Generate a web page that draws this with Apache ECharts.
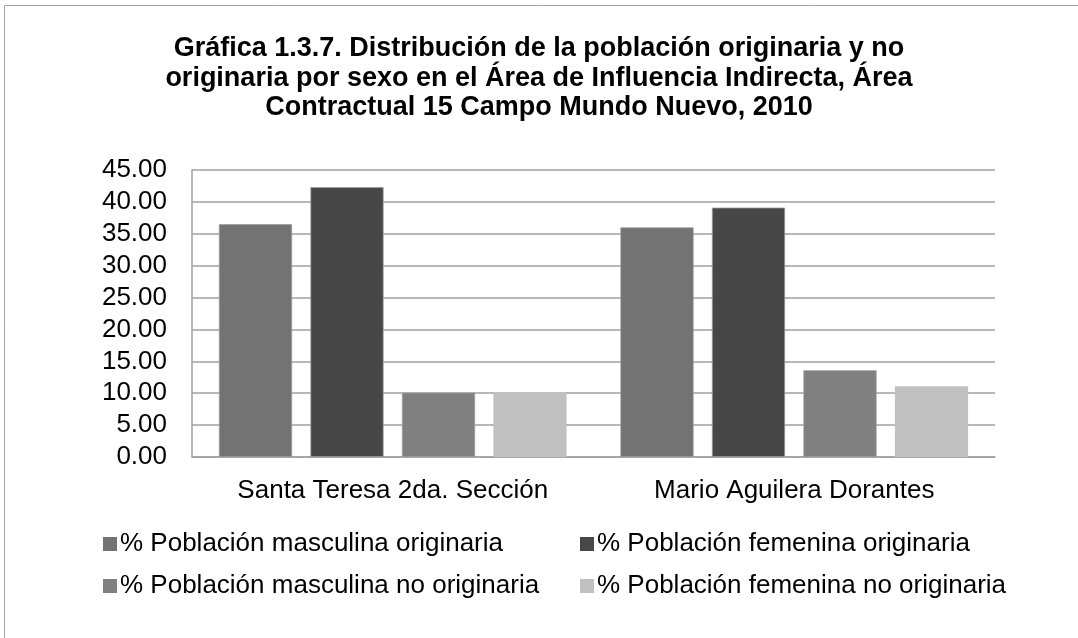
<!DOCTYPE html>
<html>
<head>
<meta charset="utf-8">
<script src="https://cdn.jsdelivr.net/npm/echarts@6/dist/echarts.min.js"></script>
<style>
  html, body { margin: 0; padding: 0; background: #fff; }
  #chart { width: 1078px; height: 638px; }
</style>
</head>
<body>
<div id="chart"></div>
<script>
// Localidades y porcentajes por grupo de población (2010)
const categories = ['Santa Teresa 2da. Sección', 'Mario Aguilera Dorantes'];
const seriesNames = [
  '% Población masculina originaria',
  '% Población femenina originaria',
  '% Población masculina no originaria',
  '% Población femenina no originaria'
];
const masculinaOriginaria = [36.5, 36.0];
const femeninaOriginaria = [42.3, 39.1];
const masculinaNoOriginaria = [10.1, 13.6];
const femeninaNoOriginaria = [10.2, 11.1];
const yTicks = { min: 0, max: 45, interval: 5 };

const colors = ['#737373', '#474747', '#808080', '#c0c0c0'];
const values = [masculinaOriginaria, femeninaOriginaria, masculinaNoOriginaria, femeninaNoOriginaria];
const fontFamily = '"Liberation Sans", Arial, sans-serif';

const legendBase = {
  orient: 'vertical',
  top: 526,
  itemWidth: 14,
  itemHeight: 14,
  itemGap: 16,
  icon: 'rect',
  itemStyle: { borderWidth: 0 },
  textStyle: { fontFamily: fontFamily, fontSize: 26, color: '#000', lineHeight: 26, padding: [0, 0, 0, -2] }
};

const chart = echarts.init(document.getElementById('chart'));
chart.setOption({
  animation: false,
  textStyle: { fontFamily: fontFamily },
  title: {
    text: 'Gráfica 1.3.7. Distribución de la población originaria y no\noriginaria por sexo en el Área de Influencia Indirecta, Área\nContractual 15 Campo Mundo Nuevo, 2010',
    left: 'center',
    top: 34,
    padding: 0,
    textStyle: {
      fontFamily: fontFamily,
      fontSize: 27,
      fontWeight: 'bold',
      color: '#000',
      lineHeight: 29.5,
      align: 'center'
    }
  },
  graphic: [{
    type: 'rect',
    silent: true,
    shape: { x: 4.5, y: 5.5, width: 1200, height: 800 },
    style: { fill: 'none', stroke: '#a6a6a6', lineWidth: 1 }
  }],
  legend: [
    Object.assign({ data: [seriesNames[0], seriesNames[2]], left: 98 }, legendBase),
    Object.assign({ data: [seriesNames[1], seriesNames[3]], left: 575 }, legendBase)
  ],
  grid: { left: 192, right: 83, top: 170, bottom: 181, containLabel: false },
  xAxis: {
    type: 'category',
    data: categories,
    axisTick: { show: false },
    axisLine: { show: true, lineStyle: { color: '#a0a0a0', width: 1.5 } },
    axisLabel: { interval: 0, hideOverlap: false, fontFamily: fontFamily, fontSize: 26, color: '#000', margin: 21 }
  },
  yAxis: {
    type: 'value',
    min: yTicks.min,
    max: yTicks.max,
    interval: yTicks.interval,
    axisLine: { show: true, lineStyle: { color: '#a0a0a0', width: 1.5 } },
    axisTick: { show: false },
    splitLine: { lineStyle: { color: '#a0a0a0', width: 1.5 } },
    axisLabel: {
      fontFamily: fontFamily,
      fontSize: 26,
      color: '#000',
      margin: 25,
      formatter: v => v.toFixed(2)
    }
  },
  series: seriesNames.map((name, i) => ({
    name: name,
    type: 'bar',
    data: values[i],
    barGap: '25%',
    barCategoryGap: '13.4%',
    itemStyle: { color: colors[i], borderColor: '#9a9a9a', borderWidth: i === 3 ? 0 : 0.8 }
  }))
});
</script>
</body>
</html>
